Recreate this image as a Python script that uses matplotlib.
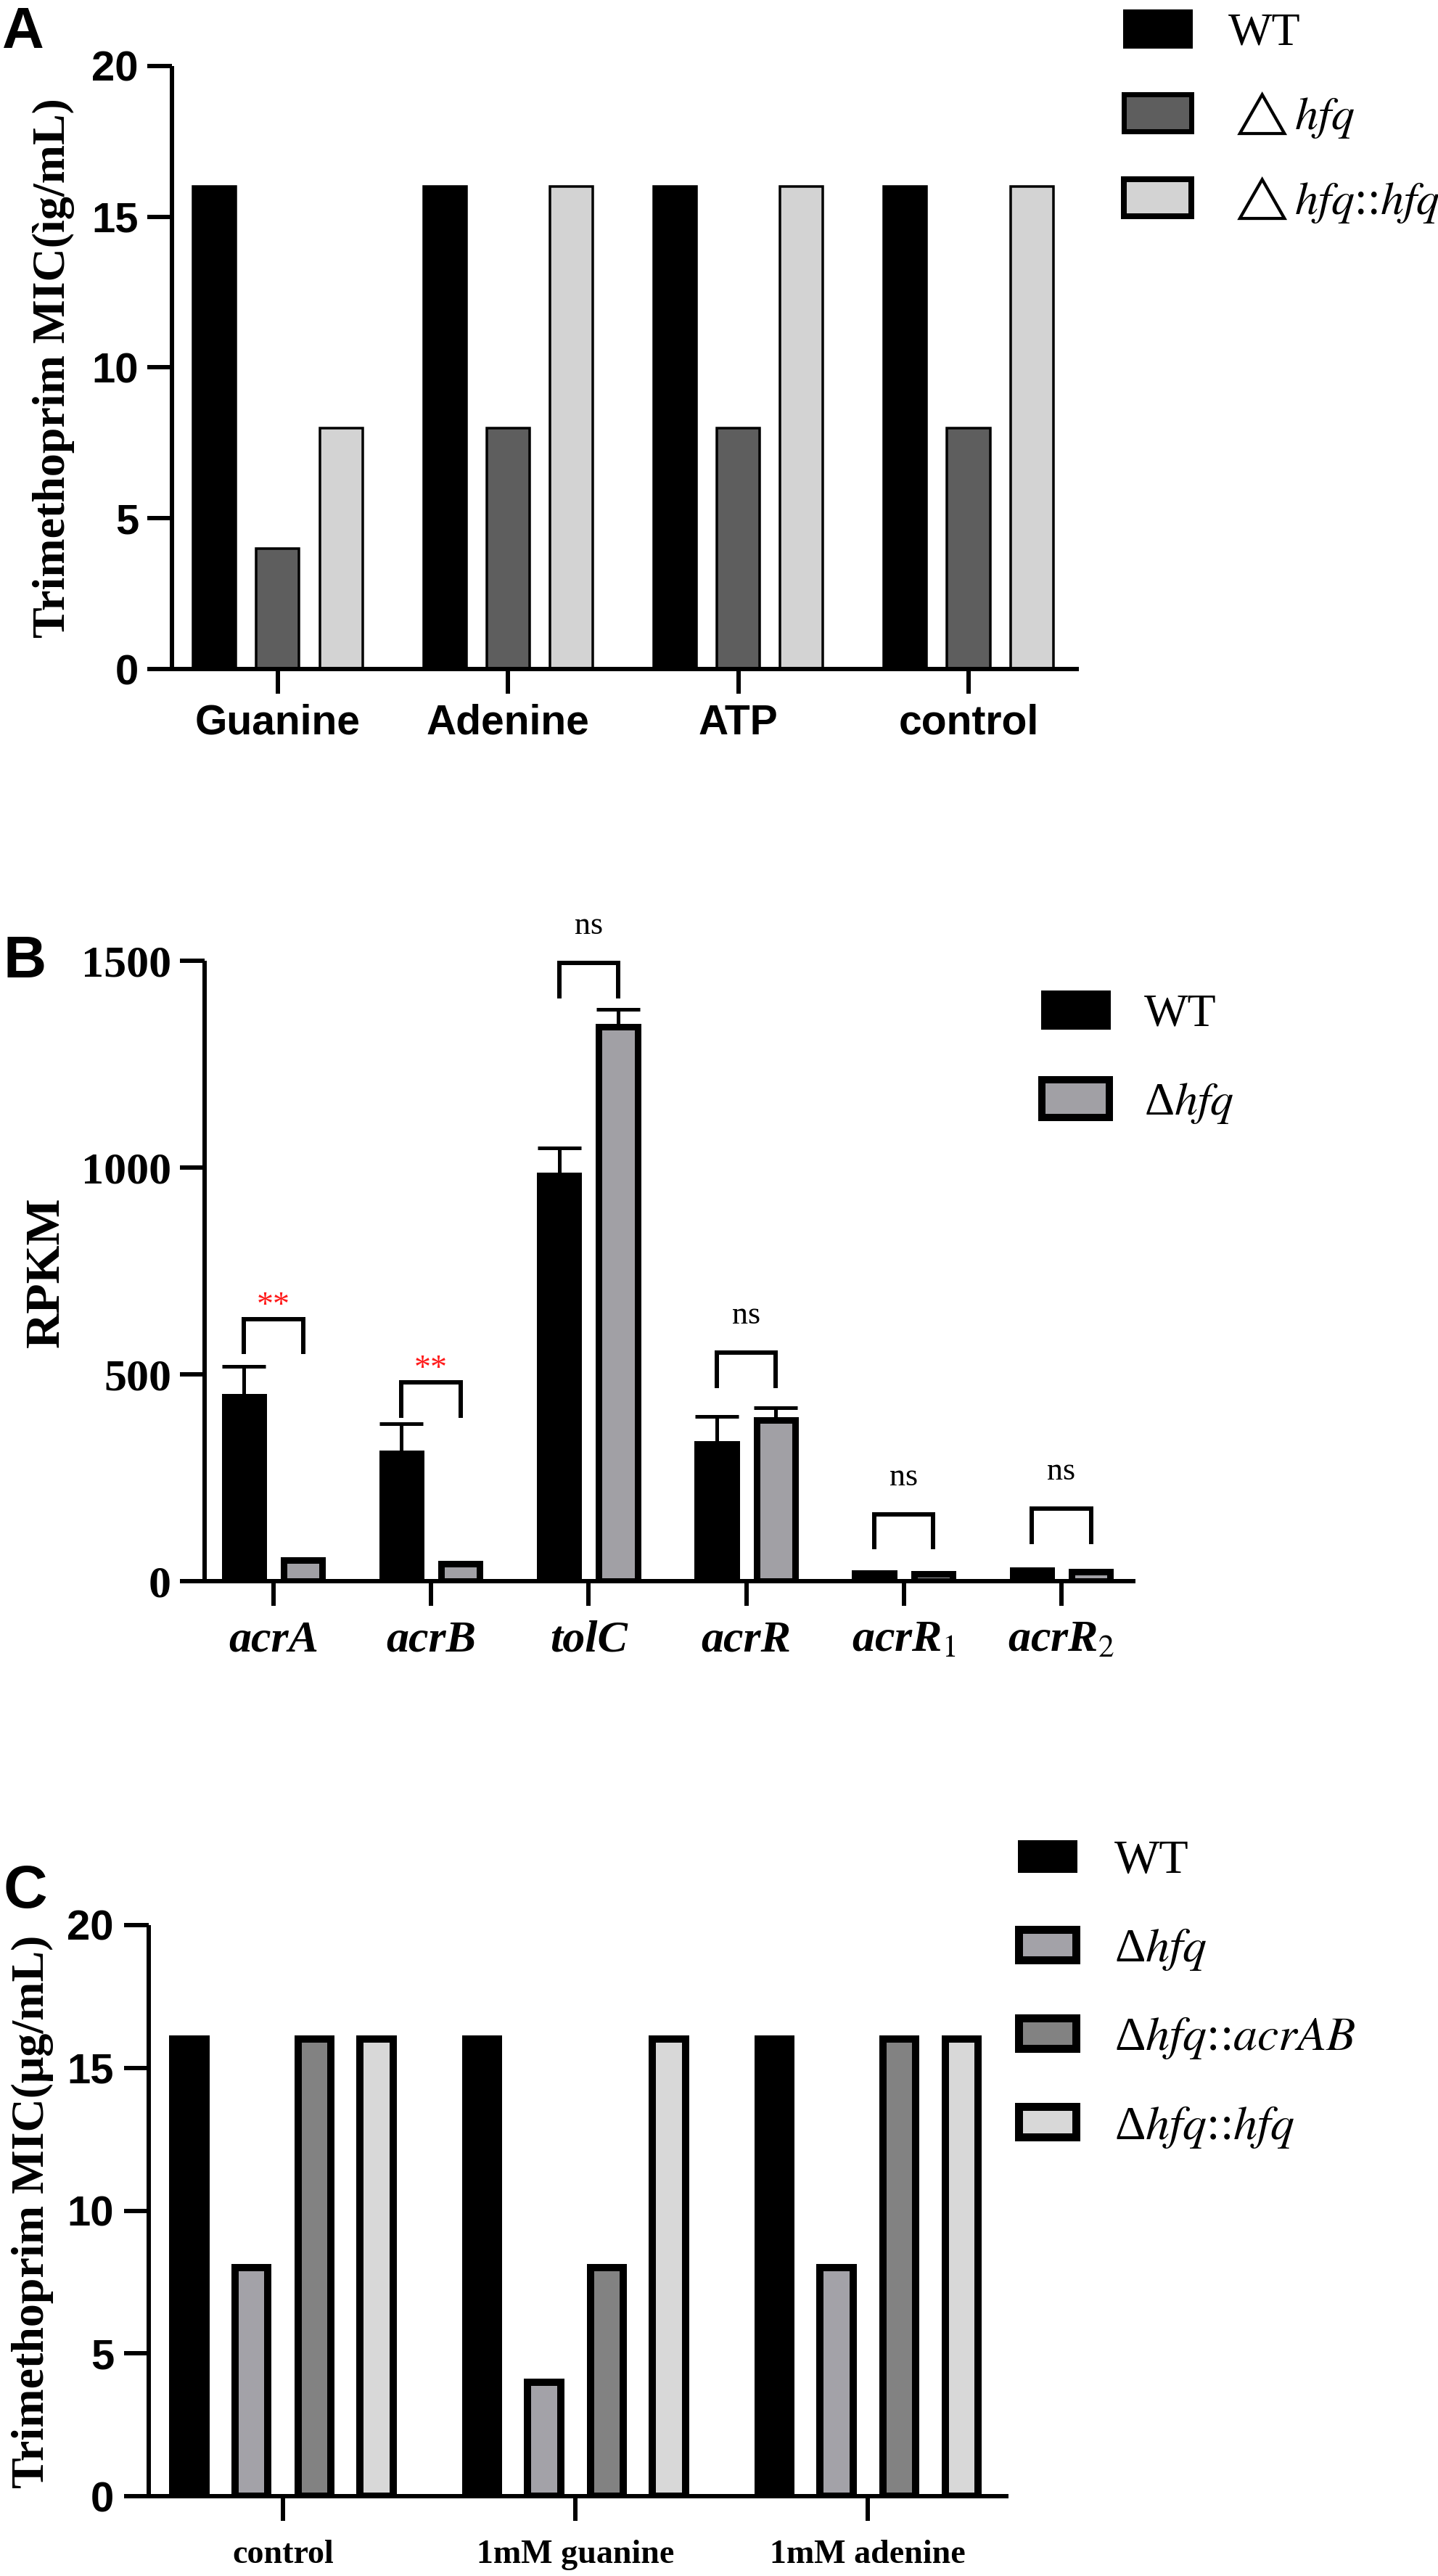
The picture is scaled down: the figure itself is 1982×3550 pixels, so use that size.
import matplotlib
matplotlib.use("Agg")
import matplotlib.pyplot as plt
from matplotlib.patches import Patch
import numpy as np

plt.rcParams['mathtext.fontset'] = 'stix'

# ---------------- data ----------------
# Panel A
a_categories = ["Guanine", "Adenine", "ATP", "control"]
a_series = ["WT", r"$\triangle\mathit{hfq}$", r"$\triangle\mathit{hfq}$::$\mathit{hfq}$"]
a_wt = [16, 16, 16, 16]
a_hfq = [4, 8, 8, 8]
a_comp = [8, 16, 16, 16]
a_yticks = [0, 5, 10, 15, 20]

# Panel B
b_genes = ["acrA", "acrB", "tolC", "acrR", "acrR$_1$", "acrR$_2$"]
b_series = ["WT", r"Δ$\mathit{hfq}$"]
b_wt = [445, 308, 981, 331, 20, 27]
b_wt_err = [74, 72, 67, 68, 0, 0]
b_hfq = [51, 42, 1340, 390, 17, 22]
b_hfq_err = [0, 0, 42, 30, 0, 0]
b_sig = ["**", "**", "ns", "ns", "ns", "ns"]
b_bracket_top = [634, 480, 1494, 552, 162, 175]
b_yticks = [0, 500, 1000, 1500]

# Panel C
c_categories = ["control", "1mM guanine", "1mM adenine"]
c_series = ["WT", r"Δ$\mathit{hfq}$", r"Δ$\mathit{hfq}$::$\mathit{acrAB}$", r"Δ$\mathit{hfq}$::$\mathit{hfq}$"]
c_wt = [16, 16, 16]
c_hfq = [8, 4, 8]
c_acrab = [16, 8, 16]
c_comp = [16, 16, 16]
c_yticks = [0, 5, 10, 15, 20]

# ---------------- layout helpers ----------------
W, H, DPI = 1983, 3550, 100
fig = plt.figure(figsize=(W / DPI, H / DPI), dpi=DPI)


def pt(pxv):
    return pxv * 72.0 / DPI


def box(left, right, top, bottom):
    return [left / W, 1 - bottom / H, (right - left) / W, (bottom - top) / H]


def base_style(ax, xpad, ypad):
    for s in ("top", "right"):
        ax.spines[s].set_visible(False)
    for s in ("left", "bottom"):
        ax.spines[s].set_linewidth(pt(6))
        ax.spines[s].set_capstyle("butt")
    ax.tick_params(axis="both", direction="out", length=pt(34), width=pt(6), color="black")
    ax.tick_params(axis="x", pad=xpad)
    ax.tick_params(axis="y", pad=ypad)


SANS = "Liberation Sans"
SERIF = "Liberation Serif"

# ---------------- Panel A ----------------
axA = fig.add_axes(box(237, 1487, 91, 922))
xa = np.arange(len(a_categories))
a_colors = ["#000000", "#5e5e5e", "#d3d3d3"]
a_offsets = [-0.275, 0.0, 0.275]
for vals, off, col in zip([a_wt, a_hfq, a_comp], a_offsets, a_colors):
    axA.bar(xa + off, vals, width=0.186, color=col, edgecolor="black", linewidth=pt(3.5), zorder=2)
axA.set_xlim(-0.46, 3.479)
axA.set_ylim(0, 20)
axA.set_yticks(a_yticks)
axA.set_yticklabels([str(v) for v in a_yticks], family=SANS, weight="bold", size=pt(58))
axA.set_xticks(xa)
axA.set_xticklabels(a_categories, family=SANS, weight="bold", size=pt(57))
base_style(axA, xpad=pt(14), ypad=pt(12))
a_handles = [Patch(facecolor=c, edgecolor="black", linewidth=pt(lw)) for c, lw in zip(a_colors, [3, 7, 8])]
axA.legend(a_handles, a_series, loc="upper left", bbox_to_anchor=(1549 / W, 1 - 14 / H),
           bbox_transform=fig.transFigure, frameon=False, prop={"family": SERIF, "size": pt(64)},
           handlelength=1.45, handleheight=0.85, handletextpad=0.8, labelspacing=0.75,
           borderpad=0, borderaxespad=0)
fig.text(74 / W, 1 - 507 / H, "Trimethoprim MIC(ìg/mL)", rotation=90, ha="center", va="center",
         family=SERIF, weight="bold", size=pt(64))
fig.text(3 / W, 1 - 8 / H, "A", ha="left", va="top", family=SANS, weight="bold", size=pt(80))

# ---------------- Panel B ----------------
axB = fig.add_axes(box(282, 1565, 1324, 2179))
xb = np.arange(len(b_genes))
b_colors = ["#000000", "#a1a0a5"]
b_off = 0.187
b_w = 0.245
axB.bar(xb - b_off, b_wt, width=b_w, color=b_colors[0], edgecolor="black", linewidth=pt(9), zorder=2)
axB.bar(xb + b_off, b_hfq, width=b_w, color=b_colors[1], edgecolor="black", linewidth=pt(9), zorder=2)
for xs, vals, errs in ((xb - b_off, b_wt, b_wt_err), (xb + b_off, b_hfq, b_hfq_err)):
    idx = [i for i, e in enumerate(errs) if e > 0]
    axB.errorbar(xs[idx], np.array(vals)[idx], yerr=[np.zeros(len(idx)), np.array(errs)[idx]],
                 fmt="none", ecolor="black", elinewidth=pt(5), capsize=pt(30), capthick=pt(5), zorder=3)
leg_len = 80
for i, (lab, top) in enumerate(zip(b_sig, b_bracket_top)):
    x1, x2 = xb[i] - b_off, xb[i] + b_off
    axB.plot([x1, x1, x2, x2], [top - leg_len, top, top, top - leg_len], color="black",
             lw=pt(6), solid_joinstyle="miter", clip_on=False, zorder=4)
    if lab == "ns":
        axB.annotate(lab, xy=((x1 + x2) / 2, top), xytext=(0, pt(40)), textcoords="offset points",
                     ha="center", va="baseline", family=SERIF, size=pt(44), color="black",
                     annotation_clip=False)
    else:
        axB.annotate(lab, xy=((x1 + x2) / 2, top), xytext=(0, pt(6)), textcoords="offset points",
                     ha="center", va="baseline", family=SERIF, size=pt(46), color="#ff1a1a",
                     annotation_clip=False)
axB.set_xlim(-0.437, 5.47)
axB.set_ylim(0, 1500)
axB.set_yticks(b_yticks)
axB.set_yticklabels([str(v) for v in b_yticks], family=SERIF, weight="bold", size=pt(62))
axB.set_xticks(xb)
axB.set_xticklabels(b_genes, family=SERIF, weight="bold", style="italic", size=pt(62))
base_style(axB, xpad=pt(20), ypad=pt(12))
b_handles = [Patch(facecolor=c, edgecolor="black", linewidth=pt(lw)) for c, lw in zip(b_colors, [3, 10])]
axB.legend(b_handles, b_series, loc="upper left", bbox_to_anchor=(1436 / W, 1 - 1366 / H),
           bbox_transform=fig.transFigure, frameon=False, prop={"family": SERIF, "size": pt(64)},
           handlelength=1.45, handleheight=0.85, handletextpad=0.75, labelspacing=0.95,
           borderpad=0, borderaxespad=0)
fig.text(64 / W, 1 - 1753 / H, "RPKM", rotation=90, ha="center", va="center",
         family=SERIF, weight="bold", size=pt(68))
fig.text(4 / W, 1 - 1288 / H, "B", ha="left", va="top", family=SANS, weight="bold", size=pt(82))

# ---------------- Panel C ----------------
axC = fig.add_axes(box(205, 1390, 2653, 3440))
xc = np.arange(len(c_categories))
c_colors = ["#000000", "#a3a2a8", "#828282", "#d8d8d8"]
c_offsets = [-0.32, -0.107, 0.107, 0.32]
for vals, off, col in zip([c_wt, c_hfq, c_acrab, c_comp], c_offsets, c_colors):
    axC.bar(xc + off, vals, width=0.112, color=col, edgecolor="black", linewidth=pt(10), zorder=2)
axC.set_xlim(-0.459, 2.481)
axC.set_ylim(0, 20)
axC.set_yticks(c_yticks)
axC.set_yticklabels([str(v) for v in c_yticks], family=SANS, weight="bold", size=pt(58))
axC.set_xticks(xc)
axC.set_xticklabels(c_categories, family=SERIF, weight="bold", size=pt(46))
base_style(axC, xpad=pt(26), ypad=pt(14))
c_handles = [Patch(facecolor=c, edgecolor="black", linewidth=pt(lw)) for c, lw in zip(c_colors, [3, 11, 11, 11])]
axC.legend(c_handles, c_series, loc="upper left", bbox_to_anchor=(1404 / W, 1 - 2536 / H),
           bbox_transform=fig.transFigure, frameon=False, prop={"family": SERIF, "size": pt(66)},
           handlelength=1.2, handleheight=0.6, handletextpad=0.8, labelspacing=0.9,
           borderpad=0, borderaxespad=0)
fig.text(45 / W, 1 - 3048 / H, "Trimethoprim MIC(μg/mL)", rotation=90, ha="center", va="center",
         family=SERIF, weight="bold", size=pt(64))
fig.text(5 / W, 1 - 2568 / H, "C", ha="left", va="top", family=SANS, weight="bold", size=pt(84))

fig.savefig("out.png", dpi=DPI, facecolor="white")
